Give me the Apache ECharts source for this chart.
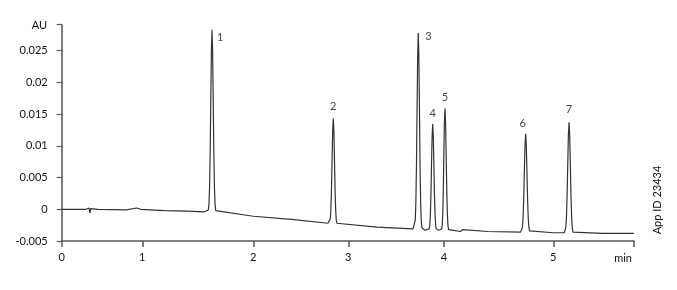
<!DOCTYPE html>
<html>
<head>
<meta charset="utf-8">
<script src="https://cdn.jsdelivr.net/npm/echarts@6/dist/echarts.min.js"></script>
<style>html,body{margin:0;padding:0;background:#fff}#c{width:677px;height:290px}</style>
</head>
<body>
<div id="c"></div>
<script>
// ---- data (time in minutes, signal in AU) ----
const times = [
  0.00, 0.30, 0.34, 0.35, 0.36, 0.38, 0.45, 0.80, 0.93, 0.95, 0.98, 1.20, 1.40, 1.56,
  1.595, 1.6005, 1.606, 1.6115, 1.617, 1.6225, 1.628, 1.6335, 1.639, 1.6445, 1.650, 1.6555, 1.661, 1.670,
  2.00, 2.40, 2.786,
  2.8042, 2.8105, 2.8168, 2.8231, 2.8294, 2.8357, 2.842, 2.8483, 2.8546, 2.8609, 2.8672, 2.8735, 2.8798, 2.895,
  3.30, 3.676,
  3.6935, 3.6998, 3.706, 3.7123, 3.7185, 3.7248, 3.731, 3.7373, 3.7435, 3.7498, 3.756, 3.7623, 3.7685,
  3.785, 3.800, 3.815,
  3.8445, 3.8508, 3.857, 3.8633, 3.8695, 3.8758, 3.882, 3.8883, 3.8945, 3.9008, 3.907, 3.9133, 3.9195,
  3.932, 3.946, 3.960,
  3.976, 3.9815, 3.987, 3.9925, 3.998, 4.0035, 4.009, 4.0145, 4.020, 4.0255, 4.031, 4.0365, 4.042,
  4.055, 4.150, 4.170, 4.185, 4.400, 4.700,
  4.711, 4.717, 4.723, 4.729, 4.735, 4.741, 4.747, 4.753, 4.759, 4.765, 4.771, 4.777, 4.783,
  4.800, 5.000, 5.100,
  5.108, 5.114, 5.120, 5.126, 5.132, 5.138, 5.144, 5.150, 5.156, 5.162, 5.168, 5.174, 5.180,
  5.195, 5.450, 5.738
];
const signal = [
  0.0000, 0.0000, 0.0002, -0.0006, 0.0001, -0.0001, 0.0000, -0.0001, 0.0002, 0.0003, 0.0000, -0.0002, -0.0003, -0.0004,
  -0.0001, 0.0009, 0.0035, 0.0089, 0.0170, 0.0249, 0.0283, 0.0249, 0.0170, 0.0089, 0.0034, 0.0008, -0.0002, -0.0005,
  -0.0011, -0.0016, -0.0022,
  -0.0020, -0.0015, 0.0000, 0.0032, 0.0078, 0.0124, 0.0143, 0.0123, 0.0077, 0.0030, -0.0001, -0.0017, -0.0022, -0.0024,
  -0.0028, -0.0031,
  -0.0028, -0.0017, 0.0011, 0.0069, 0.0156, 0.0242, 0.0278, 0.0242, 0.0156, 0.0069, 0.0010, -0.0018, -0.0029,
  -0.0032, -0.0033, -0.0032,
  -0.0031, -0.0026, -0.0010, 0.0021, 0.0069, 0.0115, 0.01345, 0.0115, 0.0069, 0.0021, -0.0010, -0.0026, -0.0031,
  -0.0032, -0.0033, -0.0032,
  -0.0031, -0.0025, -0.0007, 0.0029, 0.0083, 0.0136, 0.0159, 0.0136, 0.0083, 0.0029, -0.0008, -0.0026, -0.0032,
  -0.0034, -0.0035, -0.0032, -0.0035, -0.0035, -0.0036,
  -0.0034, -0.0029, -0.0015, 0.0014, 0.0058, 0.0101, 0.0119, 0.0101, 0.0058, 0.0014, -0.0015, -0.0029, -0.0034,
  -0.0036, -0.0037, -0.0037,
  -0.0035, -0.0029, -0.0014, 0.0020, 0.0069, 0.0117, 0.0137, 0.0116, 0.0068, 0.0019, -0.0014, -0.0030, -0.0036,
  -0.0038, -0.0038, -0.0038
];
const peakLabels = ['1', '2', '3', '4', '5', '6', '7'];
const peakTimes = [1.628, 2.842, 3.731, 3.882, 4.009, 4.747, 5.144];
const peakHeights = [0.0283, 0.0143, 0.0278, 0.01345, 0.0159, 0.0119, 0.0137];
const xTickMinutes = [0, 1, 2, 3, 4, 5];
const xTickLabels = ['0', '1', '2', '3', '4', '5'];
const yTickLabels = ['-0.005', '0', '0.005', '0.01', '0.015', '0.02', '0.025'];
const xEndMinutes = 5.738;

// ---- layout: axis positions (px from axis start) of the printed minute ticks ----
const knotMin = [0, 1, 2, 3, 4, 5, 5.738];
const knotPos = [0, 80.6, 191.6, 286.6, 382.3, 491.6, 572.3];
function toPos(t) {
  for (let i = 0; i < knotMin.length - 1; i++) {
    if (t <= knotMin[i + 1] || i === knotMin.length - 2) {
      const f = (t - knotMin[i]) / (knotMin[i + 1] - knotMin[i]);
      return knotPos[i] + f * (knotPos[i + 1] - knotPos[i]);
    }
  }
  return 0;
}
const tickPos = xTickMinutes.map(toPos);
const endPos = toPos(xEndMinutes);

const labelStyles = [
  {position: 'right', distance: 5, offset: [0, 8]},
  {position: 'top', distance: 7, offset: [0, 0]},
  {position: 'right', distance: 7, offset: [0, 4]},
  {position: 'top', distance: 5, offset: [0, 0]},
  {position: 'top', distance: 5, offset: [0, 0]},
  {position: 'top', distance: 5, offset: [-3, 0]},
  {position: 'top', distance: 7, offset: [0, 0]}
];

const font = 'Lato, "Noto Sans", sans-serif';
const txt = '#111';
const axisCol = '#555';

const chart = echarts.init(document.getElementById('c'), null, {renderer: 'canvas'});
chart.setOption({
  animation: false,
  backgroundColor: '#fff',
  grid: {left: 61.7, right: 43, top: 24.7, bottom: 49, containLabel: false},
  xAxis: {
    type: 'value', min: 0, max: endPos,
    splitLine: {show: false},
    axisLine: {show: true, onZero: false, lineStyle: {color: axisCol, width: 1.5}},
    axisTick: {show: true, length: 6, lineStyle: {color: axisCol, width: 1.5},
      customValues: tickPos.concat([endPos])},
    axisLabel: {show: true, margin: 11, color: txt, fontFamily: font, fontSize: 11,
      customValues: tickPos,
      formatter: function (v) {
        let best = 0;
        for (let i = 0; i < tickPos.length; i++) if (Math.abs(tickPos[i] - v) < Math.abs(tickPos[best] - v)) best = i;
        return xTickLabels[best];
      }}
  },
  yAxis: {
    type: 'value', min: -0.005, max: 0.0291, interval: 0.005,
    splitLine: {show: false},
    axisLine: {show: true, onZero: false, lineStyle: {color: axisCol, width: 1.5}},
    axisTick: {show: true, length: 5, lineStyle: {color: axisCol, width: 1.2}},
    axisLabel: {margin: 14, color: txt, fontFamily: font, fontSize: 11,
      formatter: function (v) {
        const i = Math.round((v + 0.005) / 0.005);
        return yTickLabels[i] !== undefined ? yTickLabels[i] : '';
      }}
  },
  series: [
    {
      type: 'line',
      data: times.map((t, i) => [toPos(t), signal[i]]),
      showSymbol: false, symbol: 'none',
      lineStyle: {color: '#333', width: 1.2},
      silent: true
    },
    {
      type: 'scatter',
      symbolSize: 0,
      data: peakTimes.map((t, i) => ({
        value: [toPos(t), peakHeights[i]],
        label: Object.assign({show: true, formatter: peakLabels[i]}, labelStyles[i])
      })),
      label: {show: true, color: txt, fontFamily: font, fontSize: 11},
      silent: true
    }
  ],
  graphic: [
    {type: 'text', x: 47, y: 25,
      style: {text: 'AU', fill: txt, font: '11px ' + font, align: 'right', verticalAlign: 'middle'}},
    {type: 'text', x: 632, y: 258,
      style: {text: 'min', fill: txt, font: '11px ' + font, align: 'right', verticalAlign: 'middle'}},
    {type: 'text', x: 657, y: 200, rotation: Math.PI / 2,
      style: {text: 'App ID 23434', fill: txt, font: '11px ' + font, align: 'center', verticalAlign: 'middle'}}
  ]
});
</script>
</body>
</html>
